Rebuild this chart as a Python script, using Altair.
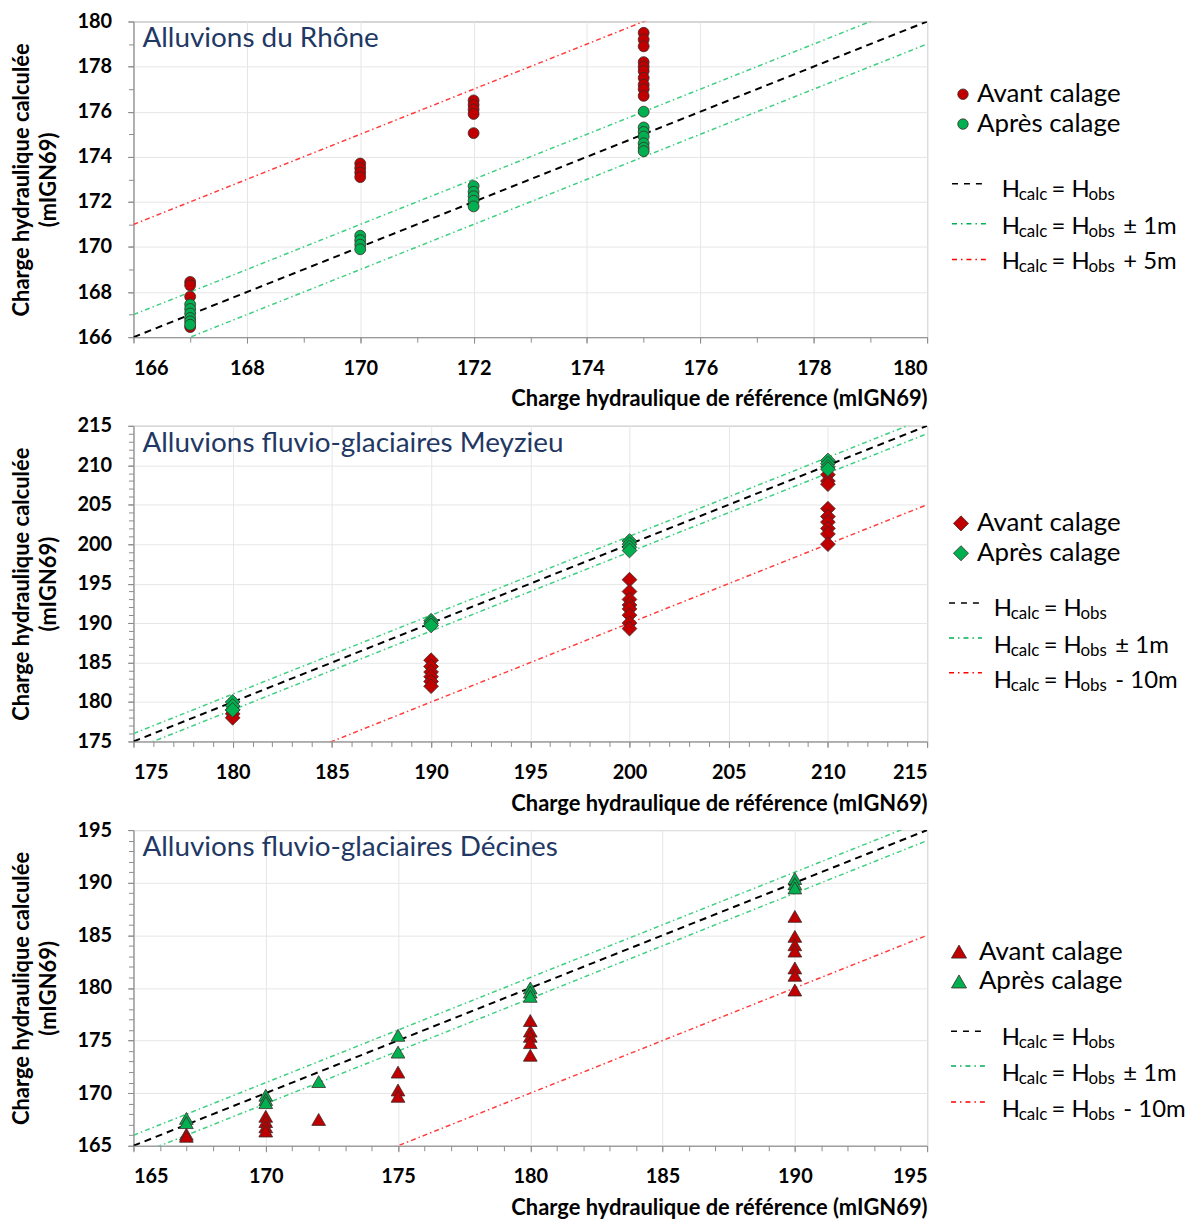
import altair as alt
import pandas as pd

FONT = "Lato"

# ---------------- data ----------------
serie_names = ["Avant calage", "Après calage"]

# Panel 1 : Alluvions du Rhône
rh_av_x = [167, 167, 167, 167, 170, 170, 170, 170, 172, 172, 172, 172, 172,
           175, 175, 175, 175, 175, 175, 175, 175, 175, 175]
rh_av_y = [168.45, 168.3, 167.8, 166.45, 173.7, 173.5, 173.3, 173.1,
           176.5, 176.3, 176.1, 175.9, 175.05,
           179.5, 179.2, 178.9, 178.2, 178.0, 177.8, 177.5, 177.2, 177.0, 176.7]
rh_ap_x = [167, 167, 167, 167, 167, 167, 170, 170, 170, 170,
           172, 172, 172, 172, 172, 175, 175, 175, 175, 175, 175, 175]
rh_ap_y = [167.45, 167.25, 167.05, 166.85, 166.7, 166.55,
           170.5, 170.3, 170.1, 169.9,
           172.7, 172.45, 172.25, 172.05, 171.8,
           176.0, 175.3, 175.1, 174.9, 174.6, 174.4, 174.25]

# Panel 2 : Alluvions fluvio-glaciaires Meyzieu
mz_av_x = [180, 180, 180, 190, 190, 190, 190, 190, 190,
           200, 200, 200, 200, 200, 200, 200, 200,
           210, 210, 210, 210, 210, 210, 210, 210, 210]
mz_av_y = [179.0, 178.5, 178.0, 185.3, 184.5, 183.8, 183.2, 182.6, 182.0,
           195.5, 194.0, 193.0, 192.3, 191.8, 191.0, 190.0, 189.3,
           208.8, 208.0, 207.6, 204.5, 203.5, 202.8, 202.0, 201.3, 200.0]
mz_ap_x = [180, 180, 180, 190, 190, 190, 200, 200, 200, 200, 210, 210, 210, 210]
mz_ap_y = [180.0, 179.5, 179.0, 190.3, 190.0, 189.7,
           200.4, 200.0, 199.6, 199.2, 210.6, 210.2, 209.8, 209.5]

# Panel 3 : Alluvions fluvio-glaciaires Décines
dc_av_x = [167, 167, 170, 170, 170, 170, 172, 175, 175, 175,
           180, 180, 180, 180, 180, 190, 190, 190, 190, 190, 190, 190]
dc_av_y = [166.1, 165.9, 167.8, 167.3, 166.8, 166.4, 167.5, 172.0, 170.3, 169.7,
           176.9, 175.9, 175.4, 174.8, 173.6,
           186.8, 184.9, 184.1, 183.5, 181.9, 181.2, 179.8]
dc_ap_x = [167, 167, 170, 170, 170, 172, 175, 175, 180, 180, 180, 190, 190, 190]
dc_ap_y = [167.6, 167.2, 169.8, 169.4, 169.1, 171.1, 175.5, 173.9,
           180.0, 179.6, 179.2, 190.4, 189.9, 189.5]

titles = ["Alluvions du Rhône", "Alluvions fluvio-glaciaires Meyzieu",
          "Alluvions fluvio-glaciaires Décines"]
# major (labelled) ticks and minor ticks of each panel
major_1 = list(range(166, 181, 2))
minor_1 = list(range(166, 181))
major_2 = list(range(175, 216, 5))
minor_2 = list(range(175, 216))
major_3 = list(range(165, 196, 5))
minor_3 = list(range(165, 196))
red_offsets = [5, -10, -10]
red_suffix = ["+ 5m", "- 10m", "- 10m"]
pm_suffix = "± 1m"
x_title = "Charge hydraulique de référence (mIGN69)"
y_title = ["Charge hydraulique calculée", "(mIGN69)"]

RED = "#c00000"
GREEN = "#00b050"
W, H = 797, 317
AXC = "#8c8c8c"


def points_df(ax, ay, px, py):
    rows = [{"x": a, "y": b, "serie": serie_names[0]} for a, b in zip(ax, ay)]
    rows += [{"x": a, "y": b, "serie": serie_names[1]} for a, b in zip(px, py)]
    return pd.DataFrame(rows)


def lines_df(ticks, red_off):
    lo, hi = ticks[0], ticks[-1]
    rows = []
    for name, off in [("eq", 0), ("p1", 1), ("m1", -1), ("red", red_off)]:
        for xv in (lo, hi):
            rows.append({"x": xv, "y": xv + off, "line": name})
    return pd.DataFrame(rows)


def major_axis(vals, orient, **kw):
    return alt.Axis(values=vals, orient=orient, format="d", labelOverlap=False,
                    gridColor="#e6e6e6", gridWidth=1,
                    labelFont=FONT, labelFontSize=20, labelFontWeight="bold",
                    labelColor="black", titleFont=FONT, titleFontSize=22,
                    titleFontWeight="bold", titleColor="black",
                    domainColor=AXC, tickColor=AXC, tickSize=6, **kw)


def minor_axis(vals, orient):
    return alt.Axis(values=vals, orient=orient, labels=False, grid=False,
                    domain=False, title=None, tickColor=AXC, tickSize=5)


def panel(pts, major, minor, title, shape, size, red_off):
    lo, hi = minor[0], minor[-1]
    xs = alt.Scale(domain=[lo, hi], nice=False, zero=False)
    ys = alt.Scale(domain=[lo, hi], nice=False, zero=False)
    xax = major_axis(major, "bottom", title=x_title, titleAnchor="end",
                     labelPadding=15, titlePadding=11)
    yax = major_axis(major, "left", title=y_title, labelPadding=16,
                     titlePadding=16, titleLineHeight=28)

    ld = lines_df(minor, red_off)
    base_l = alt.Chart(ld)
    dashdot = [5, 3, 1.5, 3]
    l_eq = base_l.transform_filter("datum.line == 'eq'").mark_line(
        color="black", strokeDash=[7, 5], strokeWidth=2, clip=True).encode(
        x=alt.X("x:Q", scale=xs, axis=xax), y=alt.Y("y:Q", scale=ys, axis=yax))
    l_p1 = base_l.transform_filter("datum.line == 'p1'").mark_line(
        color="#3fcf80", strokeDash=dashdot, strokeWidth=1.5, clip=True).encode(
        x=alt.X("x:Q", scale=xs, axis=minor_axis(minor, "bottom")),
        y=alt.Y("y:Q", scale=ys, axis=minor_axis(minor, "left")))
    l_m1 = base_l.transform_filter("datum.line == 'm1'").mark_line(
        color="#3fcf80", strokeDash=dashdot, strokeWidth=1.5, clip=True).encode(
        x=alt.X("x:Q", scale=xs, axis=None), y=alt.Y("y:Q", scale=ys, axis=None))
    l_red = base_l.transform_filter("datum.line == 'red'").mark_line(
        color="#ff3b3b", strokeDash=dashdot, strokeWidth=1.5, clip=True).encode(
        x=alt.X("x:Q", scale=xs, axis=None), y=alt.Y("y:Q", scale=ys, axis=None))
    p = alt.Chart(pts).mark_point(
        filled=True, shape=shape, size=size, opacity=1, stroke="#3a2a2a",
        strokeWidth=0.8, clip=True).encode(
        x=alt.X("x:Q", scale=xs, axis=None),
        y=alt.Y("y:Q", scale=ys, axis=None),
        fill=alt.Fill("serie:N", scale=alt.Scale(domain=serie_names, range=[RED, GREEN]),
                      legend=None))
    return alt.layer(l_eq, l_p1, l_m1, l_red, p).resolve_axis(
        x="independent", y="independent").properties(
        width=W, height=H,
        title=alt.TitleParams(text=title, anchor="start", frame="group", orient="top",
                              offset=-42, dx=9, font=FONT, fontSize=28,
                              fontWeight="normal", color="#1f3864"))


one = pd.DataFrame({"k": [0]})


def txt(text, x, y, size, baseline="alphabetic"):
    return alt.Chart(one).mark_text(text=text, align="left", baseline=baseline,
                                    fontSize=size, font=FONT, color="black").encode(
        x=alt.value(x), y=alt.value(y))


def sample(x1, x2, y, color, dash, w):
    return alt.Chart(one).mark_rule(color=color, strokeDash=dash, strokeWidth=w).encode(
        x=alt.value(x1), x2=alt.value(x2), y=alt.value(y))


def marker(x, y, shape, fill, size):
    return alt.Chart(one).mark_point(shape=shape, filled=True, fill=fill, size=size,
                                     opacity=1, stroke="#3a2a2a", strokeWidth=0.8).encode(
        x=alt.value(x), y=alt.value(y))


def equation(x0, yb, suffix):
    big, small = 24, 17
    layers = [txt("H", x0, yb, big), txt("calc", x0 + 17, yb + 3, small),
              txt("=", x0 + 50, yb, big), txt("H", x0 + 70, yb, big),
              txt("obs", x0 + 87, yb + 3, small)]
    if suffix:
        layers.append(txt(suffix, x0 + 122, yb, big))
    return layers


def legend_panel(mk_x, mk_y, shape, msize, tx, s_x1, s_x2, s_y, eq_x, eq_y, red_txt):
    layers = [marker(mk_x, mk_y[0], shape, RED, msize),
              marker(mk_x, mk_y[1], shape, GREEN, msize),
              txt(serie_names[0], tx, mk_y[0], 26, "middle"),
              txt(serie_names[1], tx, mk_y[1], 26, "middle"),
              sample(s_x1, s_x2, s_y[0], "black", [6, 6], 1.5),
              sample(s_x1, s_x2, s_y[1], "#00b050", [5, 4, 1.5, 4], 1.5),
              sample(s_x1, s_x2, s_y[2], "#ff0000", [5, 4, 1.5, 4], 1.5)]
    layers += equation(eq_x, eq_y[0], "")
    layers += equation(eq_x, eq_y[1], pm_suffix)
    layers += equation(eq_x, eq_y[2], red_txt)
    return alt.layer(*layers).properties(
        width=255, height=H, view=alt.ViewBackground(stroke="transparent"))


p1 = panel(points_df(rh_av_x, rh_av_y, rh_ap_x, rh_ap_y), major_1, minor_1,
           titles[0], "circle", 120, red_offsets[0])
p2 = panel(points_df(mz_av_x, mz_av_y, mz_ap_x, mz_ap_y), major_2, minor_2,
           titles[1], "diamond", 220, red_offsets[1])
p3 = panel(points_df(dc_av_x, dc_av_y, dc_ap_x, dc_ap_y), major_3, minor_3,
           titles[2], "triangle-up", 190, red_offsets[2])

lg1 = legend_panel(24, [73, 103], "circle", 110, 38, 13, 48, [163, 203, 239],
                   63, [176, 213, 249], red_suffix[0])
lg2 = legend_panel(22, [98, 128], "diamond", 230, 38, 10, 43, [178, 213, 248],
                   55, [191, 228, 263], red_suffix[1])
lg3 = legend_panel(20, [122, 152], "triangle-up", 230, 40, 12, 47, [202, 237, 273],
                   63, [216, 252, 288], red_suffix[2])

row1 = alt.hconcat(p1, lg1, spacing=10)
row2 = alt.hconcat(p2, lg2, spacing=10)
row3 = alt.hconcat(p3, lg3, spacing=10)

chart = alt.vconcat(row1, row2, row3, spacing=4).properties(
    padding={"top": 0, "left": 1, "right": 0, "bottom": 0},
    background="white"
).configure_view(stroke=AXC, strokeWidth=1)

chart.save("out.html", embed_options={"renderer": "svg", "actions": False})
